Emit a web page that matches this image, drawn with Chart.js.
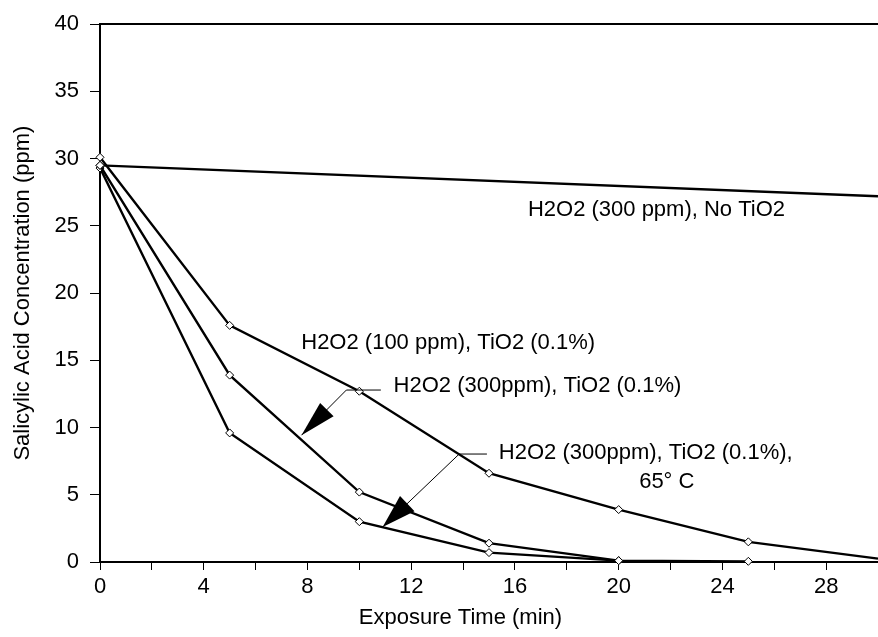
<!DOCTYPE html>
<html lang="en">
<head>
<meta charset="UTF-8" />
<title>Salicylic Acid Concentration</title>
<script src="https://cdn.jsdelivr.net/npm/chart.js"></script>
<style>
  html, body { margin: 0; padding: 0; background: #fff; overflow: hidden; }
  #wrap { width: 883px; height: 637px; }
</style>
</head>
<body>
<div id="wrap"><canvas id="chart" width="883" height="637"></canvas></div>
<script>
// exposure time (min) / concentration (ppm) for each run
const timeNoTiO2 = [0, 30];
const concNoTiO2 = [29.5, 27.2];
const time100 = [0, 5, 10, 15, 20, 25, 30];
const conc100 = [30.1, 17.6, 12.7, 6.6, 3.9, 1.5, 0.25];
const time300 = [0, 5, 10, 15, 20, 25];
const conc300 = [29.5, 13.9, 5.2, 1.4, 0.1, 0.05];
const time65 = [0, 5, 10, 15, 20];
const conc65 = [29.3, 9.6, 3.0, 0.7, 0.1];

const xLabelled = [0, 4, 8, 12, 16, 20, 24, 28];
const yLabelled = [0, 5, 10, 15, 20, 25, 30, 35, 40];

const toPoints = (xs, ys) => xs.map((x, i) => ({ x: x, y: ys[i] }));

// text labels and arrows, in data units
const notes = [
    { text: 'H2O2 (300 ppm), No TiO2', x: 16.5, y: 26.2 },
    { text: 'H2O2 (100 ppm), TiO2 (0.1%)', x: 7.76, y: 16.3 },
    { text: 'H2O2 (300ppm), TiO2 (0.1%)', x: 11.32, y: 13.1 },
    { text: 'H2O2 (300ppm), TiO2 (0.1%),', x: 15.38, y: 8.1 },
    { text: '65\u00b0 C', x: 20.79, y: 5.96 }
];
const arrows = [
    { path: [[10.83, 12.79], [9.50, 12.79], [7.77, 9.43]], len: 36, width: 19 },
    { path: [[14.92, 8.03], [13.85, 8.03], [10.90, 2.60]], len: 34, width: 21 }
];

Chart.defaults.font.family = '"Liberation Sans", Arial, Helvetica, sans-serif';
Chart.defaults.font.size = 22;
Chart.defaults.color = '#000';

const notesPlugin = {
    id: 'notes',
    afterDatasetsDraw(chart) {
        const { ctx, scales: { x, y } } = chart;
        ctx.save();
        ctx.fillStyle = '#000';
        ctx.strokeStyle = '#000';
        ctx.font = '22px "Liberation Sans", Arial, sans-serif';
        ctx.textBaseline = 'middle';
        ctx.textAlign = 'left';
        notes.forEach(n => {
            ctx.fillText(n.text, x.getPixelForValue(n.x), y.getPixelForValue(n.y));
        });

        arrows.forEach(a => {
            const pts = a.path.map(p => [x.getPixelForValue(p[0]), y.getPixelForValue(p[1])]);
            ctx.lineWidth = 1;
            ctx.beginPath();
            ctx.moveTo(pts[0][0], pts[0][1]);
            for (let i = 1; i < pts.length; i++) ctx.lineTo(pts[i][0], pts[i][1]);
            ctx.stroke();

            const tip = pts[pts.length - 1];
            const from = pts[pts.length - 2];
            const dx = tip[0] - from[0], dy = tip[1] - from[1];
            const d = Math.hypot(dx, dy);
            const ux = dx / d, uy = dy / d;
            const bx = tip[0] - ux * a.len, by = tip[1] - uy * a.len;
            const hw = a.width / 2;
            ctx.beginPath();
            ctx.moveTo(tip[0], tip[1]);
            ctx.lineTo(bx - uy * hw, by + ux * hw);
            ctx.lineTo(bx + uy * hw, by - ux * hw);
            ctx.closePath();
            ctx.fill();
        });

        // x axis title
        ctx.textAlign = 'center';
        ctx.fillText('Exposure Time (min)', x.getPixelForValue(13.9), 618);
        ctx.restore();
    }
};

const lineStyle = {
    borderColor: '#000',
    borderWidth: 2.4,
    tension: 0,
    pointStyle: 'rectRot',
    // no marker on the points that sit at the cut right edge
    pointRadius: c => (c.raw && c.raw.x >= 30 ? 0 : 4),
    pointBackgroundColor: '#fff',
    pointBorderColor: '#000',
    pointBorderWidth: 1,
    clip: false
};

new Chart(document.getElementById('chart'), {
    type: 'line',
    data: {
        datasets: [
            Object.assign({ label: 'H2O2 (300 ppm), No TiO2', data: toPoints(timeNoTiO2, concNoTiO2) }, lineStyle),
            Object.assign({ label: 'H2O2 (100 ppm), TiO2 (0.1%)', data: toPoints(time100, conc100) }, lineStyle),
            Object.assign({ label: 'H2O2 (300ppm), TiO2 (0.1%)', data: toPoints(time300, conc300) }, lineStyle),
            Object.assign({ label: 'H2O2 (300ppm), TiO2 (0.1%), 65\u00b0 C', data: toPoints(time65, conc65) }, lineStyle)
        ]
    },
    options: {
        responsive: false,
        animation: false,
        layout: { padding: { top: 19, left: 0, right: 0, bottom: 0 } },
        plugins: { legend: { display: false }, tooltip: { enabled: false } },
        scales: {
            x: {
                type: 'linear',
                min: 0,
                max: 30,
                ticks: {
                    stepSize: 2,
                    autoSkip: false,
                    maxRotation: 0,
                    padding: 4,
                    callback: v => xLabelled.includes(v) ? v : ''
                },
                grid: { drawOnChartArea: false, tickLength: 8, tickColor: '#000', tickWidth: 1 },
                border: { display: true, color: '#000', width: 2 },
                afterFit: s => { s.height = 75; }
            },
            xTop: {
                type: 'linear',
                position: 'top',
                min: 0,
                max: 30,
                ticks: { display: false },
                grid: { display: false },
                border: { display: true, color: '#000', width: 2 },
                afterFit: s => { s.height = 0; }
            },
            y: {
                min: 0,
                max: 40,
                ticks: {
                    stepSize: 5,
                    padding: 11,
                    callback: v => yLabelled.includes(v) ? v : ''
                },
                grid: { drawOnChartArea: false, tickLength: 10, tickColor: '#000', tickWidth: 1 },
                border: { display: true, color: '#000', width: 2 },
                title: {
                    display: true,
                    text: 'Salicylic Acid Concentration (ppm)',
                    font: { size: 22 },
                    padding: { top: 10, bottom: 0 }
                },
                afterFit: s => { s.width = 100; }
            }
        }
    },
    plugins: [notesPlugin]
});
</script>
</body>
</html>
